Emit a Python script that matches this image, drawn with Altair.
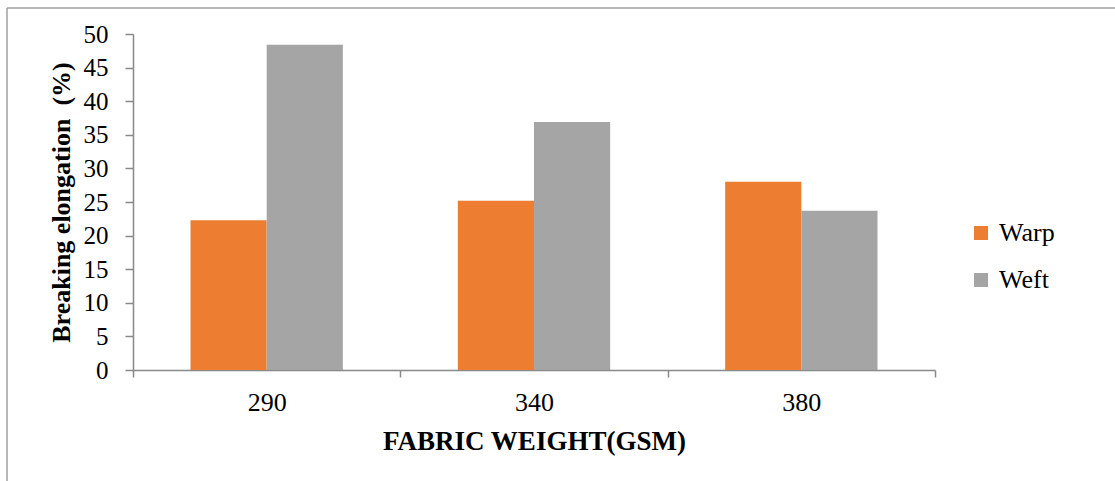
import altair as alt
import pandas as pd

categories = ["290", "340", "380"]
series = ["Warp", "Weft"]
warp = [22.3, 25.2, 28.0]
weft = [48.4, 36.9, 23.7]

rows = []
for i, c in enumerate(categories):
    rows.append({"gsm": c, "dir": "Warp", "val": warp[i]})
    rows.append({"gsm": c, "dir": "Weft", "val": weft[i]})
df = pd.DataFrame(rows)

FONT = "Liberation Serif"
AXC = "#898989"

bars = alt.Chart(df).mark_bar().encode(
    x=alt.X("gsm:N", sort=categories,
            scale=alt.Scale(paddingInner=0, paddingOuter=0),
            axis=alt.Axis(title="FABRIC WEIGHT(GSM)", labelAngle=0, tickBand="extent",
                          tickSize=7, labelPadding=12, titlePadding=13,
                          labelFontSize=26, titleFontSize=27, titleFontWeight="bold",
                          labelFont=FONT, titleFont=FONT, labelColor="#000", titleColor="#000",
                          domainColor=AXC, tickColor=AXC, domainWidth=1.5, tickWidth=1.5)),
    xOffset=alt.XOffset("dir:N", sort=series,
                        scale=alt.Scale(paddingInner=0, paddingOuter=0.755)),
    y=alt.Y("val:Q", scale=alt.Scale(domain=[0, 50], nice=False),
            axis=alt.Axis(title="Breaking elongation\u00a0 (%)", values=list(range(0, 51, 5)),
                          grid=False, tickSize=8, labelPadding=17, titlePadding=9,
                          labelFontSize=25, titleFontSize=26, titleFontWeight="bold",
                          labelFont=FONT, titleFont=FONT, labelColor="#000", titleColor="#000",
                          domainColor=AXC, tickColor=AXC, domainWidth=1.5, tickWidth=1.5)),
    color=alt.Color("dir:N", sort=series,
                    scale=alt.Scale(domain=series, range=["#ED7D31", "#A5A5A5"]),
                    legend=alt.Legend(title=None, orient="none", legendX=835, legendY=186,
                                      symbolType="square", symbolSize=196, symbolStrokeWidth=0,
                                      labelFont=FONT, labelFontSize=26, labelColor="#000",
                                      rowPadding=21, labelOffset=5, padding=0)),
)

frame = alt.Chart(alt.Data(values=[{}])).mark_rule(color="#a0a0a0", strokeWidth=1.5).encode(
    x=alt.value(-126), x2=alt.value(1000), y=alt.value(-26))
frame2 = alt.Chart(alt.Data(values=[{}])).mark_rule(color="#a0a0a0", strokeWidth=1.5).encode(
    x=alt.value(-126), y=alt.value(-26), y2=alt.value(500))

chart = alt.layer(frame, frame2, bars).properties(
    width=802, height=336,
    autosize=alt.AutoSizeParams(type="none"),
    padding={"left": 133, "top": 34, "right": 180, "bottom": 111},
    background="white",
).configure(font=FONT).configure_view(stroke=None)

chart.save("out.html", embed_options={"renderer": "svg", "actions": False})
